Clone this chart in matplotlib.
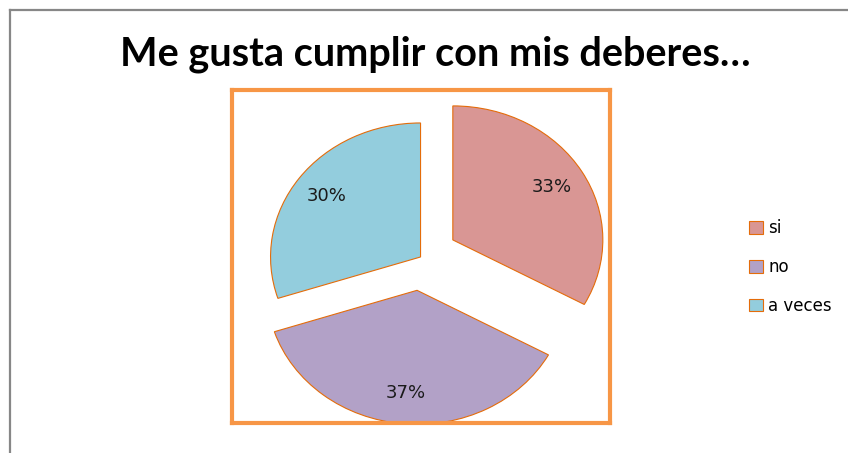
import matplotlib
matplotlib.use("Agg")
import matplotlib.pyplot as plt
from matplotlib.lines import Line2D

# Chart data
labels = ["si", "no", "a veces"]
values = [33, 37, 30]
colors = ["#D99694", "#B2A1C7", "#93CDDD"]
explode = [0.25, 0.25, 0.0]

fig = plt.figure(figsize=(8.48, 4.53), dpi=100)

# Outer chart border (top and left only visible)
fig.add_artist(Line2D([10 / 848, 1], [443 / 453, 443 / 453], color="#878787", lw=1.6))
fig.add_artist(Line2D([10 / 848, 10 / 848], [0, 443 / 453], color="#878787", lw=1.6))

# Title
fig.text(435 / 848, (453 - 54) / 453, "Me gusta cumplir con mis deberes…",
         ha="center", va="center", fontsize=28.5, fontweight="bold", family="Lato")

# Plot area with orange frame
ax = fig.add_axes([232 / 848, 30 / 453, 378 / 848, 333 / 453])
wedges, texts, autotexts = ax.pie(
    values, colors=colors, explode=explode, startangle=90, counterclock=False,
    autopct="%1.0f%%", pctdistance=0.77,
    wedgeprops=dict(edgecolor="#E46C0A", linewidth=0.8),
    textprops=dict(fontsize=13, color="#1a1a1a"),
)
ax.set_aspect("auto")
ax.set_xlim(-1.257, 1.263)
ax.set_ylim(-1.239, 1.246)
ax.set_xticks([])
ax.set_yticks([])
ax.set_frame_on(True)
for s in ax.spines.values():
    s.set_visible(True)
    s.set_color("#F79646")
    s.set_linewidth(3)

# Legend
fig.legend(wedges, labels, loc="center left", bbox_to_anchor=(741 / 848, (453 - 267) / 453),
           frameon=False, fontsize=12, handlelength=0.8, handleheight=0.8,
           handletextpad=0.35, labelspacing=1.25, borderpad=0)

fig.savefig("out.png", dpi=100)
